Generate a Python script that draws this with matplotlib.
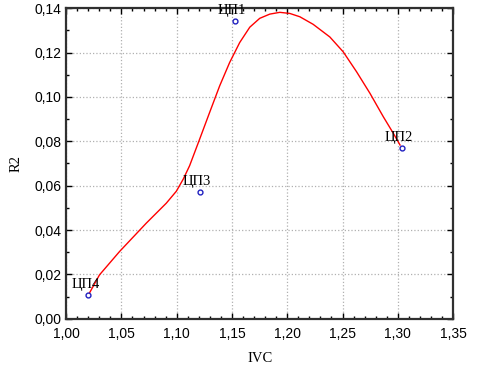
import matplotlib
matplotlib.use("Agg")
import matplotlib.pyplot as plt
from matplotlib.ticker import MultipleLocator, FuncFormatter

# measured points
labels = ["ЦП1", "ЦП2", "ЦП3", "ЦП4"]
ivc = [1.1526, 1.3035, 1.1208, 1.0202]
r2 = [0.1343, 0.0768, 0.0570, 0.0107]

# fitted curve
curve_x = [1.0211, 1.0302, 1.0483, 1.0725, 1.0906, 1.0997, 1.1060, 1.1117,
           1.1208, 1.1298, 1.1389, 1.1479, 1.1570, 1.1661, 1.1751, 1.1842,
           1.1933, 1.2023, 1.2114, 1.2234, 1.2385, 1.2506, 1.2627, 1.2748,
           1.2868, 1.2959, 1.3020]
curve_y = [0.0116, 0.0198, 0.0303, 0.0431, 0.0521, 0.0575, 0.0630, 0.0690,
           0.0810, 0.0930, 0.1050, 0.1155, 0.1245, 0.1314, 0.1354, 0.1373,
           0.1381, 0.1376, 0.1361, 0.1327, 0.1270, 0.1203, 0.1113, 0.1016,
           0.0911, 0.0836, 0.0783]

fig = plt.figure(figsize=(4.79, 3.69), dpi=100)
ax = fig.add_axes([0.138, 0.136, 0.808, 0.842])

ax.plot(curve_x, curve_y, color="red", lw=1.0, zorder=3)
ax.plot(ivc, r2, "o", ms=3.5, mfc="none", mec="#2020c0", mew=1.0, zorder=4)

for lab, x, y in zip(labels, ivc, r2):
    ax.annotate(lab, (x, y), xytext=(-2, 3), textcoords="offset points",
                ha="center", va="bottom", family="Liberation Serif",
                fontsize=10.5, zorder=5, annotation_clip=False)

ax.set_xlim(1.0, 1.35)
ax.set_ylim(0.0, 0.14)
ax.xaxis.set_major_locator(MultipleLocator(0.05))
ax.xaxis.set_minor_locator(MultipleLocator(0.01))
ax.yaxis.set_major_locator(MultipleLocator(0.02))
ax.yaxis.set_minor_locator(MultipleLocator(0.01))

ax.xaxis.set_major_formatter(FuncFormatter(lambda v, p: f"{v:.2f}".replace(".", ",")))
ax.yaxis.set_major_formatter(FuncFormatter(lambda v, p: f"{v:.2f}".replace(".", ",")))

ax.tick_params(which="both", direction="in", top=True, right=True,
               labelsize=10, colors="black")
ax.tick_params(which="major", length=4, width=1)
ax.tick_params(which="minor", length=2.5, width=1)
for t in ax.get_xticklabels() + ax.get_yticklabels():
    t.set_family("Liberation Sans")
ax.tick_params(axis="x", pad=6)

for s in ax.spines.values():
    s.set_linewidth(1.6)
    s.set_color("#303030")

ax.grid(True, which="major", ls=":", color="#b0b0b0", lw=0.9)
ax.set_axisbelow(True)

ax.set_xlabel("IVC", family="Liberation Serif", fontsize=10.5, labelpad=8)
ax.set_ylabel("R2", family="Liberation Serif", fontsize=10.5, labelpad=8)

fig.savefig("out.png", dpi=100)
